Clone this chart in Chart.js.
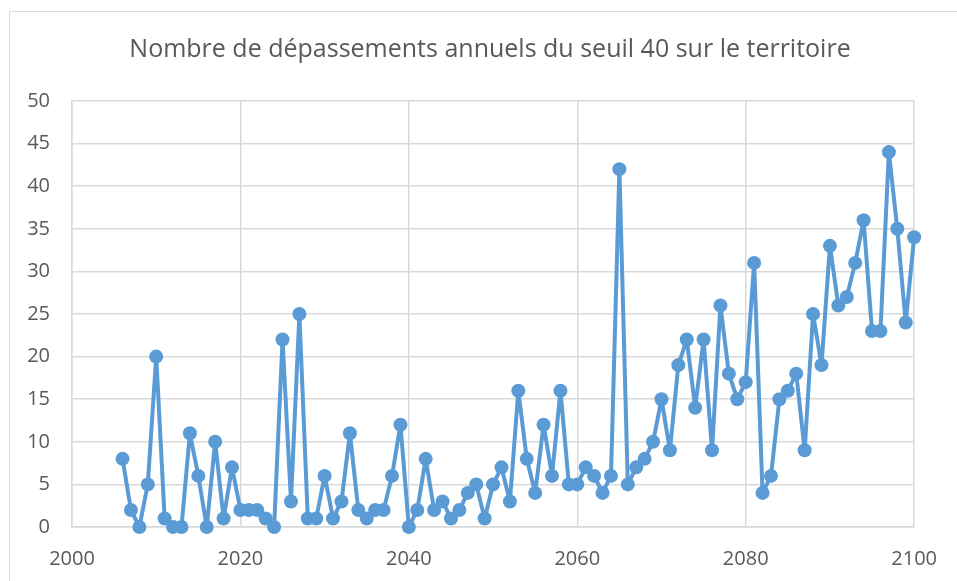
<!DOCTYPE html>
<html>
<head>
<meta charset="utf-8">
<script src="https://cdn.jsdelivr.net/npm/chart.js@4/dist/chart.umd.min.js"></script>
<style>
  html, body { margin: 0; padding: 0; background: #fff; }
  #wrap { width: 957px; height: 581px; }
</style>
</head>
<body>
<div id="wrap"><canvas id="c" width="957" height="581"></canvas></div>
<script>
// données
const titre = 'Nombre de dépassements annuels du seuil 40 sur le territoire';
const annees = [];
for (let a = 2006; a <= 2100; a++) annees.push(a);
const depassements = [
  8, 2, 0, 5, 20, 1, 0, 0, 11, 6,          // 2006-2015
  0, 10, 1, 7, 2, 2, 2, 1, 0, 22,          // 2016-2025
  3, 25, 1, 1, 6, 1, 3, 11, 2, 1,          // 2026-2035
  2, 2, 6, 12, 0, 2, 8, 2, 3, 1,           // 2036-2045
  2, 4, 5, 1, 5, 7, 3, 16, 8, 4,           // 2046-2055
  12, 6, 16, 5, 5, 7, 6, 4, 6, 42,         // 2056-2065
  5, 7, 8, 10, 15, 9, 19, 22, 14, 22,      // 2066-2075
  9, 26, 18, 15, 17, 31, 4, 6, 15, 16,     // 2076-2085
  18, 9, 25, 19, 33, 26, 27, 31, 36, 23,   // 2086-2095
  23, 44, 35, 24, 34                       // 2096-2100
];
const xMin = 2000, xMax = 2100, xPas = 20;
const yMin = 0, yMax = 50, yPas = 5;

const bleu = '#5B9BD5';
const gris = '#595959';
const grille = '#d9d9d9';
const police = "'Open Sans', 'Noto Sans', sans-serif";

// cadre gris + titre centré comme dans Excel
const cadre = {
  id: 'cadre',
  beforeDraw(chart) {
    const ctx = chart.ctx;
    ctx.save();
    ctx.strokeStyle = grille;
    ctx.lineWidth = 1;
    ctx.strokeRect(9.5, 11.5, 1000, 700);
    ctx.fillStyle = gris;
    ctx.font = "25px " + police;
    ctx.textAlign = 'center';
    ctx.textBaseline = 'middle';
    ctx.fillText(titre, 490, 50);
    ctx.restore();
  }
};

new Chart(document.getElementById('c'), {
  type: 'line',
  data: {
    datasets: [{
      data: annees.map((a, i) => ({ x: a, y: depassements[i] })),
      borderColor: bleu,
      backgroundColor: bleu,
      borderWidth: 4,
      borderJoinStyle: 'round',
      borderCapStyle: 'round',
      pointRadius: 7,
      pointBorderWidth: 0,
      pointBackgroundColor: bleu,
      tension: 0,
      clip: false
    }]
  },
  options: {
    responsive: false,
    animation: false,
    layout: { padding: { left: 0, right: 41, top: 101, bottom: 0 } },
    plugins: {
      legend: { display: false },
      tooltip: { enabled: false },
      title: { display: false }
    },
    scales: {
      x: {
        type: 'linear',
        min: xMin, max: xMax,
        ticks: {
          stepSize: xPas,
          color: gris,
          font: { family: police, size: 20 },
          padding: 20,
          maxRotation: 0,
          callback: v => String(v)
        },
        grid: { color: grille, lineWidth: 1.5, drawTicks: false },
        border: { color: grille, width: 1.5 },
        afterFit: s => { s.height = 54; }
      },
      y: {
        min: yMin, max: yMax,
        ticks: {
          stepSize: yPas,
          color: gris,
          font: { family: police, size: 20 },
          padding: 22
        },
        grid: { color: grille, lineWidth: 1.5, drawTicks: false },
        border: { color: grille, width: 1.5 },
        afterFit: s => { s.width = 72; }
      }
    }
  },
  plugins: [cadre]
});
</script>
</body>
</html>
